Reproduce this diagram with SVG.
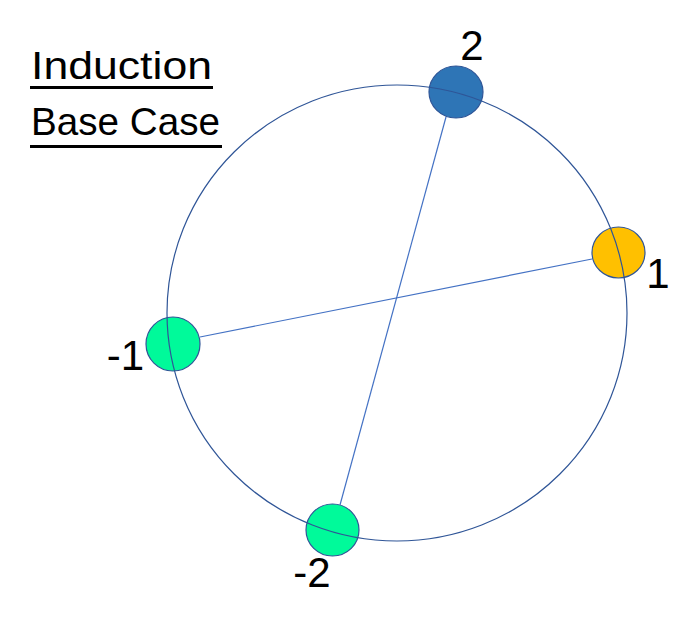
<svg xmlns="http://www.w3.org/2000/svg" width="700" height="630" viewBox="0 0 700 630">
<style>
.lbl{font-family:"Liberation Sans",Arial,sans-serif;font-size:42px;fill:#000}
.ttl{font-family:"Liberation Sans",Arial,sans-serif;font-size:39px;fill:#000}
.ul{stroke:#000;stroke-width:3}
.node{stroke:#2F5597;stroke-width:1.2}
.edge{stroke:#4472C4;stroke-width:1.2;fill:none}
.ring{stroke:#2F5597;stroke-width:1.2;fill:none}
</style>
<rect width="700" height="630" fill="#fff"/>
<g id="title">
<text class="ttl" x="31" y="79" textLength="181" lengthAdjust="spacingAndGlyphs">Induction</text>
<line class="ul" x1="30" y1="87.5" x2="213" y2="87.5"/>
<text class="ttl" x="31" y="135" textLength="189" lengthAdjust="spacingAndGlyphs">Base Case</text>
<line class="ul" x1="30" y1="146.5" x2="222" y2="146.5"/>
</g>
<g id="connectors">
<line class="edge" x1="446" y1="117" x2="340" y2="505"/>
<line class="edge" x1="592" y1="259" x2="200" y2="337"/>
</g>
<g id="node-2">
<ellipse class="node" cx="456" cy="92" rx="27" ry="26" fill="#2E75B6"/>
<text class="lbl" x="472" y="60" text-anchor="middle">2</text>
</g>
<g id="node-1">
<ellipse class="node" cx="618.5" cy="252.5" rx="26.5" ry="25.5" fill="#FFC000"/>
<text class="lbl" x="658" y="288" text-anchor="middle">1</text>
</g>
<g id="node-neg1">
<ellipse class="node" cx="173" cy="344" rx="27" ry="27" fill="#00FA9A"/>
<text class="lbl" x="125.5" y="370" text-anchor="middle">-1</text>
</g>
<g id="node-neg2">
<ellipse class="node" cx="332.5" cy="530" rx="26.5" ry="26" fill="#00FA9A"/>
<text class="lbl" x="312" y="587" text-anchor="middle">-2</text>
</g>
<g id="ring">
<ellipse class="ring" cx="397" cy="313" rx="230" ry="228"/>
</g>
</svg>
